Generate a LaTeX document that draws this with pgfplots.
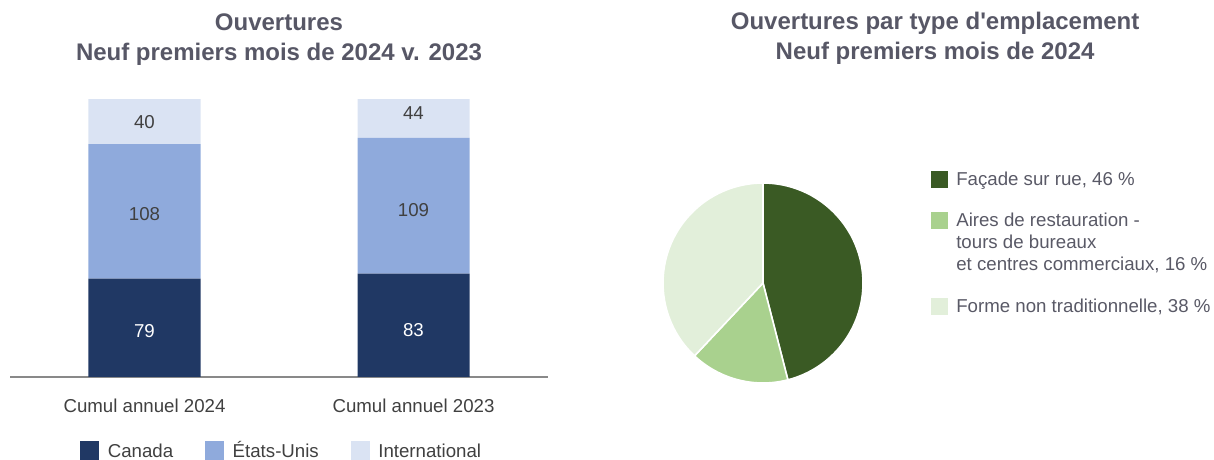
\documentclass[border=0pt]{standalone}
\usepackage{pgfplots}
\pgfplotsset{compat=1.18}
\usepackage{fontspec}
\setmainfont{Liberation Sans}
\definecolor{cCan}{HTML}{203864}
\definecolor{cUS}{HTML}{8FAADC}
\definecolor{cInt}{HTML}{DAE3F3}
\definecolor{pA}{HTML}{3A5A24}
\definecolor{pB}{HTML}{A9D18E}
\definecolor{pC}{HTML}{E2EFDA}
\definecolor{titlec}{HTML}{575766}
\definecolor{txt}{HTML}{404040}
\definecolor{txtp}{HTML}{595966}
\definecolor{axc}{HTML}{898989}
\newcommand\bodyfont{\fontsize{14}{16.5}\selectfont}
\newcommand\titlefont{\fontsize{18}{22.5}\selectfont\bfseries}
\pgfplotsset{
  barsq/.style={legend image code/.code={\fill[#1] (0pt,-1.75pt) rectangle (13.5pt,11.75pt);}},
  piesq/.style n args={2}{legend image code/.code={\path[draw=none,fill=none] (0pt,-#2) rectangle (0.01pt,11.6pt); \fill[#1] (0pt,-1pt) rectangle (12pt,11pt);}},
  barframe/.style={
    at={(7.5pt,62.25pt)}, anchor=south west,
    scale only axis, width=403.5pt, height=207.75pt,
    xmin=-0.5, xmax=1.5, ymin=0, ymax=222.5},
}
\begin{document}
\begin{tikzpicture}
\path[use as bounding box] (0,0) rectangle (910.5pt,345pt);
\begin{axis}[
  barframe,
  ybar stacked, bar width=84pt,
  axis x line=bottom, axis y line=none, ytick=\empty,
  x axis line style={draw=axc, line width=1.1pt, -},
  xtick={0,1}, xticklabels={Cumul annuel 2024, Cumul annuel 2023},
  major tick length=0pt,
  xticklabel style={anchor=base, inner sep=0pt, yshift=-26.6pt, font=\bodyfont, text=txt},
  title={Ouvertures\\Neuf premiers mois de 2024 v. 2023},
  title style={at={(0.5,1)}, anchor=south, inner sep=0pt, yshift=19.7pt, align=center, font=\titlefont, text=titlec},
  legend columns=3,
  legend style={at={(0.1301,-0.2306)}, anchor=north west, draw=none, fill=none, inner sep=0pt,
    column sep=6.75pt, font=\bodyfont, text=txt, cells={anchor=base west},
    nodes={inner sep=0pt, text height=11pt, text depth=3pt},
    /tikz/every even column/.append style={column sep=24pt}},
]
\addplot[fill=cCan, draw=none, forget plot] coordinates {(0,79) (1,83)};
\addplot[fill=cUS, draw=none, forget plot] coordinates {(0,108) (1,109)};
\addplot[fill=cInt, draw=none, forget plot] coordinates {(0,40) (1,44)};
\addlegendimage{barsq=cCan}
\addlegendentry{Canada}
\addlegendimage{barsq=cUS}
\addlegendentry{États-Unis}
\addlegendimage{barsq=cInt}
\addlegendentry{International}
\end{axis}
% value labels, placed in each segment
\begin{axis}[barframe, hide axis, clip=false]
\addplot[only marks, mark=*, mark size=0pt, mark options={draw=none, fill=none},
  nodes near coords, point meta=explicit symbolic,
  nodes near coords style={anchor=center, inner sep=0pt, font=\bodyfont, text=white}]
  coordinates {(0,36.6)[79] (1,37.8)[83]};
\addplot[only marks, mark=*, mark size=0pt, mark options={draw=none, fill=none},
  nodes near coords, point meta=explicit symbolic,
  nodes near coords style={anchor=center, inner sep=0pt, font=\bodyfont, text=txt}]
  coordinates {(0,131.2)[108] (1,134.1)[109] (0,204.8)[40] (1,212)[44]};
\end{axis}

\def\vA{46}\def\vB{16}\def\vC{38}
\pgfmathsetmacro\aA{90-3.6*\vA}
\pgfmathsetmacro\aB{\aA-3.6*\vB}
\pgfmathsetmacro\aC{\aB-3.6*\vC}
\begin{axis}[
  at={(572.25pt,132.75pt)}, anchor=center,
  scale only axis, width=150pt, height=150pt,
  xmin=-1, xmax=1, ymin=-1, ymax=1,
  hide axis, clip=false,
  title={Ouvertures par type d\textquotesingle emplacement\\Neuf premiers mois de 2024},
  title style={at={(1.3607,1)}, anchor=south, inner sep=0pt, yshift=82.7pt, align=center, font=\titlefont, text=titlec},
  legend style={at={(1.3375,1.0646)}, anchor=north west, draw=none, fill=none, inner sep=0pt,
    column sep=6.75pt, row sep=0pt, font=\bodyfont, text=txtp, cells={anchor=base west},
    nodes={inner sep=0pt}},
]
\fill[pA, draw=white, line width=1.2pt] (axis cs:0,0) -- ++(90:75pt) arc[start angle=90, end angle=\aA, radius=75pt] -- cycle;
\fill[pB, draw=white, line width=1.2pt] (axis cs:0,0) -- ++(\aA:75pt) arc[start angle=\aA, end angle=\aB, radius=75pt] -- cycle;
\fill[pC, draw=white, line width=1.2pt] (axis cs:0,0) -- ++(\aB:75pt) arc[start angle=\aB, end angle=\aC, radius=75pt] -- cycle;
\addlegendimage{piesq={pA}{19pt}}
\addlegendentry{\begin{tabular}[t]{@{}l@{}}Façade sur rue, 46 \%\end{tabular}}
\addlegendimage{piesq={pB}{53pt}}
\addlegendentry{\begin{tabular}[t]{@{}l@{}}Aires de restauration -\\tours de bureaux\\et centres commerciaux, 16 \%\end{tabular}}
\addlegendimage{piesq={pC}{1pt}}
\addlegendentry{\begin{tabular}[t]{@{}l@{}}Forme non traditionnelle, 38 \%\end{tabular}}
\end{axis}
\end{tikzpicture}
\end{document}
